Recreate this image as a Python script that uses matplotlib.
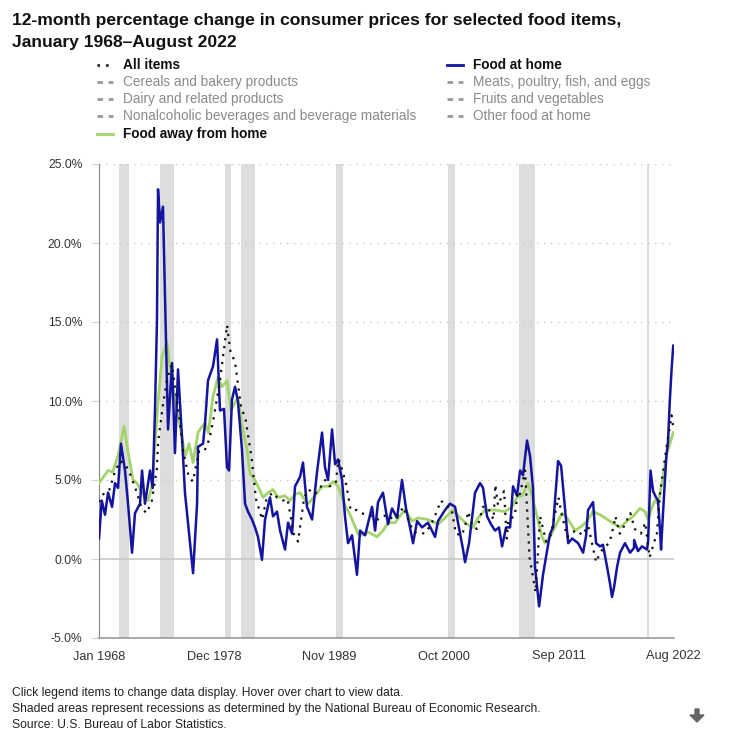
import numpy as np
import matplotlib
matplotlib.use("Agg")
import matplotlib.pyplot as plt
from matplotlib.lines import Line2D
from matplotlib.patches import FancyArrow

plt.rcParams['font.family'] = ['Liberation Sans', 'DejaVu Sans']

# ---- data (decimal year, 12-month % change) ----
home_t = [1968.0, 1968.26, 1968.57, 1968.86, 1969.24, 1969.52, 1969.81, 1970.09, 1970.47, 1970.76,
          1971.14, 1971.42, 1971.9, 1972.09, 1972.37, 1972.85, 1973.1, 1973.32, 1973.51, 1973.61,
          1973.8, 1974.08, 1974.27, 1974.56, 1974.94, 1975.22, 1975.51, 1975.89, 1976.17, 1976.65,
          1976.94, 1977.32, 1977.41, 1977.89, 1978.08, 1978.36, 1978.84, 1979.22, 1979.5, 1979.88,
          1980.17, 1980.36, 1980.64, 1980.93, 1981.2, 1981.59, 1981.88, 1982.16, 1982.54, 1982.83,
          1983.11, 1983.49, 1983.78, 1984.25, 1984.54, 1984.92, 1985.21, 1985.68, 1985.97, 1986.35,
          1986.63, 1987.11, 1987.39, 1987.77, 1988.25, 1988.72, 1989.2, 1989.48, 1989.77, 1990.15,
          1990.44, 1990.72, 1991.1, 1991.38, 1991.67, 1992.05, 1992.52, 1992.81, 1993.29, 1993.95,
          1994.24, 1994.52, 1994.99, 1995.47, 1995.85, 1996.33, 1996.8, 1997.18, 1997.56, 1997.85,
          1998.23, 1998.7, 1999.27, 1999.94, 2000.22, 2000.89, 2001.36, 2001.84, 2002.32, 2002.6,
          2002.79, 2003.17, 2003.74, 2004.22, 2004.5, 2004.88, 2005.26, 2005.64, 2006.02, 2006.31,
          2006.69, 2007.07, 2007.35, 2007.73, 2008.02, 2008.3, 2008.68, 2008.97, 2009.25, 2009.44,
          2009.83, 2010.2, 2010.58, 2010.87, 2011.16, 2011.35, 2011.63, 2011.92, 2012.3, 2012.59,
          2012.97, 2013.54, 2014.01, 2014.3, 2014.48, 2014.96, 2015.24, 2015.62, 2015.9, 2016.29,
          2016.58, 2016.76, 2016.95, 2017.24, 2017.52, 2017.99, 2018.47, 2018.85, 2018.86, 2019.23,
          2019.61, 2020.08, 2020.19, 2020.42, 2020.66, 2020.94, 2021.13, 2021.32, 2021.42, 2021.58,
          2021.75, 2021.92, 2022.08, 2022.25, 2022.42, 2022.58]
home_v = [1.3, 3.7, 2.8, 4.2, 3.3, 4.8, 4.5, 7.3, 5.6, 3.5,
          0.4, 2.9, 3.5, 5.6, 3.5, 5.6, 4.5, 9.4, 15.1, 23.4,
          21.3, 22.3, 16.6, 8.2, 12.4, 6.7, 12.0, 7.7, 4.2, 1.0,
          -0.9, 3.5, 7.1, 7.3, 8.6, 11.3, 12.2, 13.9, 9.4, 9.5,
          5.8, 5.6, 10.1, 10.9, 10.0, 6.9, 3.5, 3.0, 2.5, 2.0,
          1.4, -0.05, 2.5, 3.9, 2.7, 3.0, 1.8, 0.6, 2.3, 1.6,
          4.6, 5.2, 6.1, 3.3, 2.5, 5.5, 8.0, 5.8, 5.0, 8.2,
          6.0, 6.3, 5.0, 2.7, 1.0, 1.5, -1.0, 1.8, 1.5, 3.3,
          1.8, 3.6, 4.2, 2.2, 3.2, 2.6, 5.0, 3.2, 2.0, 1.0,
          2.4, 2.0, 2.3, 1.4, 2.4, 3.1, 3.5, 3.3, 1.6, 0.6,
          -0.2, 1.0, 4.2, 4.8, 4.5, 2.7, 2.2, 1.8, 2.0, 0.8,
          2.0, 2.0, 4.6, 4.0, 5.6, 5.3, 7.5, 6.5, 4.5, -0.5,
          -3.0, -1.0, 0.5, 1.6, 2.0, 3.8, 6.2, 5.9, 3.1, 1.0,
          1.3, 1.0, 0.4, 1.5, 3.1, 3.6, 1.0, 0.8, 0.9, -0.5,
          -1.6, -2.4, -1.8, -0.5, 0.4, 1.0, 0.4, 0.7, 1.2, 0.5,
          0.8, 0.6, 1.1, 5.6, 4.3, 3.9, 3.7, 1.8, 0.6, 2.6,
          4.5, 6.5, 7.4, 10.0, 12.0, 13.5]

away_t = [1968.0, 1968.86, 1969.3, 1969.8, 1970.38, 1970.7, 1971.23, 1971.6, 1972.18, 1972.66,
          1973.0, 1973.3, 1973.61, 1973.99, 1974.46, 1974.94, 1975.41, 1975.89, 1976.17, 1976.56,
          1976.94, 1977.41, 1977.7, 1978.08, 1978.4, 1978.84, 1979.31, 1979.69, 1980.17, 1980.55,
          1980.93, 1981.21, 1981.59, 1982.07, 1982.35, 1982.83, 1983.59, 1984.06, 1984.54, 1985.02,
          1985.68, 1986.16, 1986.63, 1987.11, 1987.39, 1987.87, 1988.53, 1989.2, 1989.77, 1990.24,
          1990.72, 1991.38, 1991.86, 1992.62, 1993.0, 1993.57, 1994.43, 1995.0, 1995.47, 1996.14,
          1996.8, 1997.09, 1997.75, 1998.32, 1999.27, 2000.22, 2000.89, 2001.65, 2002.32, 2002.98,
          2003.55, 2004.03, 2004.69, 2005.64, 2006.59, 2007.26, 2007.73, 2008.21, 2008.78, 2009.16,
          2009.63, 2010.11, 2010.4, 2010.87, 2011.54, 2012.01, 2012.49, 2013.25, 2013.91, 2014.39,
          2014.96, 2015.62, 2016.1, 2016.77, 2017.52, 2018.19, 2018.76, 2019.42, 2019.9, 2020.19,
          2020.57, 2020.85, 2021.13, 2021.51, 2021.99, 2022.58]
away_v = [4.8, 5.6, 5.5, 6.5, 8.4, 7.0, 5.0, 4.8, 4.1, 3.7,
          4.5, 7.0, 9.9, 12.8, 13.7, 11.1, 9.5, 7.7, 6.5, 7.3,
          6.1, 8.0, 8.3, 8.6, 8.0, 10.3, 11.5, 10.9, 11.3, 9.4,
          9.9, 10.2, 8.5, 6.9, 5.4, 5.0, 3.9, 4.2, 4.4, 3.9,
          4.0, 3.7, 4.1, 4.2, 3.9, 3.5, 4.0, 4.6, 4.6, 4.9,
          4.6, 3.4, 2.8, 1.6, 1.5, 1.7, 1.4, 1.8, 2.3, 2.3,
          2.9, 3.1, 2.4, 2.6, 2.5, 2.2, 2.6, 3.1, 2.6, 2.2,
          2.0, 2.6, 3.1, 3.1, 3.0, 3.3, 3.9, 4.0, 4.8, 4.0,
          2.7, 1.4, 1.0, 1.4, 2.3, 2.9, 2.6, 1.8, 2.1, 2.4,
          3.0, 2.8, 2.6, 2.3, 2.0, 2.4, 2.7, 3.2, 3.0, 2.5,
          3.3, 3.7, 3.5, 4.8, 6.7, 8.0]

all_t = [1968.0, 1968.5, 1969.0, 1969.5, 1970.0, 1970.5, 1971.0, 1971.5, 1972.0, 1972.5,
         1973.0, 1973.5, 1973.62, 1974.0, 1974.5, 1974.92, 1975.5, 1976.0, 1976.5, 1976.92,
         1977.5, 1978.0, 1978.5, 1978.92, 1979.5, 1980.17, 1980.5, 1980.92, 1981.5, 1981.92,
         1982.5, 1982.92, 1983.5, 1983.92, 1984.5, 1984.92, 1985.5, 1985.92, 1986.5, 1986.92,
         1987.5, 1987.92, 1988.5, 1988.92, 1989.5, 1989.92, 1990.5, 1990.75, 1990.92, 1991.5,
         1991.92, 1992.5, 1992.92, 1993.5, 1993.92, 1994.5, 1994.92, 1995.5, 1995.92, 1996.5,
         1996.92, 1997.5, 1997.92, 1998.5, 1998.92, 1999.5, 1999.92, 2000.5, 2000.92, 2001.5,
         2001.92, 2002.5, 2002.92, 2003.08, 2003.5, 2003.92, 2004.5, 2004.92, 2005.5, 2005.67,
         2005.92, 2006.5, 2006.75, 2006.92, 2007.5, 2007.83, 2008.0, 2008.5, 2008.92, 2009.5,
         2009.92, 2010.5, 2010.92, 2011.67, 2011.92, 2012.5, 2012.92, 2013.5, 2013.92, 2014.5,
         2014.92, 2015.25, 2015.5, 2015.92, 2016.5, 2016.92, 2017.08, 2017.5, 2017.92, 2018.5,
         2018.92, 2019.5, 2019.92, 2020.33, 2020.92, 2021.0, 2021.33, 2021.92, 2022.42, 2022.58]
all_v = [3.6, 4.2, 4.4, 5.5, 6.2, 6.0, 5.3, 4.4, 3.3, 2.9,
         3.6, 5.7, 7.4, 9.4, 11.5, 12.3, 9.7, 6.8, 5.3, 4.9,
         6.8, 6.8, 7.6, 9.0, 11.3, 14.8, 13.1, 12.5, 9.6, 8.9,
         6.4, 3.8, 2.5, 3.8, 4.2, 3.9, 3.7, 3.8, 1.6, 1.1,
         3.9, 4.4, 4.1, 4.4, 5.0, 4.6, 4.8, 6.3, 6.1, 4.7,
         3.1, 3.1, 2.9, 2.8, 2.7, 2.5, 2.7, 2.8, 2.5, 2.8,
         3.3, 2.3, 1.7, 1.7, 1.6, 2.1, 2.7, 3.7, 3.4, 3.2,
         1.6, 1.5, 2.4, 3.0, 2.1, 1.9, 3.3, 3.3, 2.5, 4.7,
         3.4, 4.3, 1.3, 2.5, 2.7, 4.3, 4.1, 5.6, 0.1, -2.1,
         2.7, 1.1, 1.5, 3.9, 3.0, 1.4, 1.7, 1.8, 1.5, 2.1,
         0.8, -0.2, 0.2, 0.7, 1.0, 2.1, 2.7, 1.6, 2.1, 2.9,
         1.9, 1.6, 2.3, 0.1, 1.4, 1.4, 4.2, 7.0, 9.1, 8.3]

recessions = [(1969.92, 1970.83), (1973.83, 1975.17), (1980.0, 1980.5), (1981.5, 1982.83),
              (1990.5, 1991.17), (2001.17, 2001.83), (2007.92, 2009.42), (2020.08, 2020.25)]

xtick_pos = [1968.0, 1978.917, 1989.833, 2000.75, 2011.667, 2022.583]
xtick_lab = ['Jan 1968', 'Dec 1978', 'Nov 1989', 'Oct 2000', 'Sep 2011', 'Aug 2022']
yticks = [-5, 0, 5, 10, 15, 20, 25]

legend_left = ['All items', 'Cereals and bakery products', 'Dairy and related products',
               'Nonalcoholic beverages and beverage materials', 'Food away from home']
legend_right = ['Food at home', 'Meats, poultry, fish, and eggs', 'Fruits and vegetables',
                'Other food at home']

BLUE = '#1414a0'
GREEN = '#a3d46a'
W, H = 736, 731

fig = plt.figure(figsize=(W / 100, H / 100), dpi=100)
ax = fig.add_axes([99 / W, 1 - 638 / H, (674 - 99) / W, (638 - 164) / H])

for a, b in recessions:
    ax.axvspan(a, b, color='#dddddd', lw=0, zorder=0)

for y in [5, 10, 15, 20, 25]:
    ax.axhline(y, color='#c8c8c8', lw=1, ls=(0, (1, 4)), zorder=1)
ax.axhline(0, color='#c8c8c8', lw=1.2, zorder=1)

ax.plot(away_t, away_v, color=GREEN, lw=2, zorder=3)
ax.plot(home_t, home_v, color=BLUE, lw=1.8, zorder=4)
ax.plot(all_t, all_v, color='#111111', lw=1.6, ls=(0, (1, 2.6)), zorder=5)

ax.set_xlim(1968.0, 2022.65)
ax.set_ylim(-5, 25)
ax.set_yticks(yticks)
ax.set_yticklabels([f'{v:.1f}%' for v in yticks])
ax.set_xticks(xtick_pos)
ax.set_xticklabels(xtick_lab)
ax.tick_params(axis='y', length=6, color='#ccd6eb', pad=6, labelsize=8.7, labelcolor='#333333')
ax.tick_params(axis='x', length=0, pad=9, labelsize=9.2, labelcolor='#333333')

for s in ['top', 'right']:
    ax.spines[s].set_visible(False)
ax.spines['left'].set_color('#888888')
ax.spines['bottom'].set_color('#999999')
ax.spines['bottom'].set_linewidth(1.2)

fig.text(12 / W, 1 - 20 / H, '12-month percentage change in consumer prices for selected food items,',
         fontsize=12.6, fontweight='bold', va='center', color='#111111')
fig.text(12 / W, 1 - 43 / H, 'January 1968\u2013August 2022',
         fontsize=12.6, fontweight='bold', va='center', color='#111111')

# legend
row_y = [65, 82, 99, 116, 134]
def legend_item(x_sym, x_txt, y, label, color, ls, tcolor, bold):
    fy = 1 - y / H
    fig.add_artist(Line2D([x_sym / W, (x_sym + 16) / W], [fy, fy], color=color, lw=2, ls=ls,
                          dash_capstyle='butt', transform=fig.transFigure))
    fig.text(x_txt / W, fy, label, fontsize=9.8, va='center', color=tcolor,
             fontweight='bold' if bold else 'normal')

DASH = (0, (2, 2))
for i, lab in enumerate(legend_left):
    if lab == 'All items':
        legend_item(97, 123, row_y[i], lab, '#222222', (0, (0.9, 2.2)), '#111111', True)
    elif lab == 'Food away from home':
        legend_item(97, 123, row_y[i], lab, GREEN, '-', '#111111', True)
    else:
        legend_item(97, 123, row_y[i], lab, '#999999', DASH, '#8a8a8a', False)
for i, lab in enumerate(legend_right):
    if lab == 'Food at home':
        legend_item(447, 473, row_y[i], lab, BLUE, '-', '#111111', True)
    else:
        legend_item(447, 473, row_y[i], lab, '#999999', DASH, '#8a8a8a', False)

notes = ['Click legend items to change data display. Hover over chart to view data.',
         'Shaded areas represent recessions as determined by the National Bureau of Economic Research.',
         'Source: U.S. Bureau of Labor Statistics.']
for i, n in enumerate(notes):
    fig.text(12 / W, 1 - (693 + i * 16) / H, n, fontsize=8.75, va='center', color='#222222')

fig.add_artist(FancyArrow(697 / W, 1 - 709 / H, 0, -13 / H, width=4 / W, head_width=14 / W,
                          head_length=7 / H, length_includes_head=True, color='#666666',
                          transform=fig.transFigure))

fig.savefig('out.png', dpi=100)
